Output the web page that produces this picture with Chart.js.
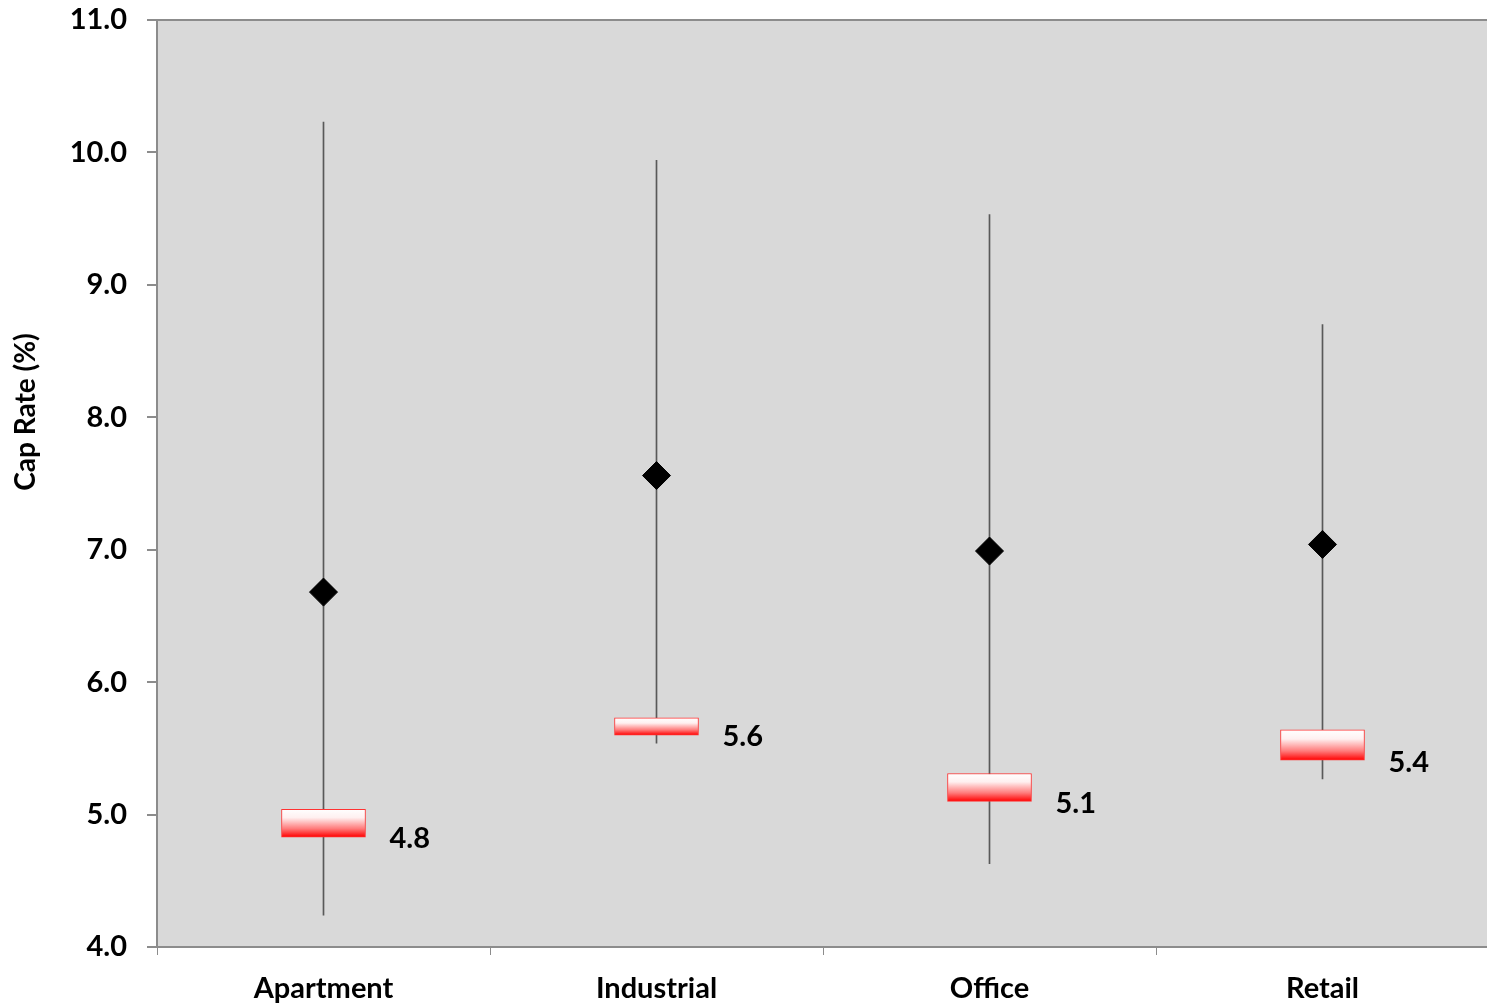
<!DOCTYPE html>
<html>
<head>
<meta charset="utf-8">
<script src="https://cdn.jsdelivr.net/npm/chart.js@4.4.1/dist/chart.umd.min.js"></script>
<style>
  html, body { margin: 0; padding: 0; background: #ffffff; overflow: hidden; }
  #chart { display: block; }
</style>
</head>
<body>
<canvas id="chart" width="1492" height="1005"></canvas>
<script>
// Cap rate ranges by property type
const categories = ['Apartment', 'Industrial', 'Office', 'Retail'];
const rangeLow   = [4.24, 5.54, 4.63, 5.27];
const rangeHigh  = [10.23, 9.94, 9.53, 8.70];
const boxLow     = [4.83, 5.60, 5.10, 5.41];
const boxHigh    = [5.04, 5.73, 5.31, 5.64];
const meanValues = [6.68, 7.56, 6.99, 7.04];
const yTicks     = [4, 5, 6, 7, 8, 9, 10, 11];
const yTitle     = 'Cap Rate (%)';

const FONT = 'Lato, "Open Sans", sans-serif';
const AXIS_GREY = '#8c8c8c';

const whiskerData = categories.map((_, i) => [rangeLow[i], rangeHigh[i]]);
const boxData = categories.map((_, i) => [boxLow[i], boxHigh[i]]);

function boxGradient(ctx) {
  const chart = ctx.chart;
  const y = chart.scales.y;
  if (!chart.chartArea || !y || ctx.dataIndex === undefined) return '#ff4040';
  const top = y.getPixelForValue(boxHigh[ctx.dataIndex]);
  const bottom = y.getPixelForValue(boxLow[ctx.dataIndex]);
  const g = chart.ctx.createLinearGradient(0, top, 0, bottom);
  g.addColorStop(0, '#ffffff');
  g.addColorStop(0.3, '#fff0f0');
  g.addColorStop(0.7, '#ff7a7a');
  g.addColorStop(1, '#ff0000');
  return g;
}

// Grey plot background, top frame line and the rotated axis title
const plotFrame = {
  id: 'plotFrame',
  beforeDraw(chart) {
    const { ctx, chartArea: a } = chart;
    ctx.save();
    ctx.fillStyle = '#d9d9d9';
    ctx.fillRect(a.left, a.top, a.right - a.left, a.bottom - a.top);
    ctx.restore();
  },
  afterDraw(chart) {
    const { ctx, chartArea: a } = chart;
    ctx.save();
    ctx.strokeStyle = AXIS_GREY;
    ctx.lineWidth = 2;
    ctx.beginPath();
    ctx.moveTo(a.left, a.top);
    ctx.lineTo(a.right, a.top);
    ctx.stroke();

    ctx.translate(26, 412);
    ctx.rotate(-Math.PI / 2);
    ctx.font = 'bold 28px ' + FONT;
    ctx.fillStyle = '#000000';
    ctx.textAlign = 'center';
    ctx.textBaseline = 'middle';
    ctx.fillText(yTitle, 0, 0);
    ctx.restore();
  }
};

// Value labels beside the lower edge of each box
const boxLabels = {
  id: 'boxLabels',
  afterDatasetsDraw(chart) {
    const meta = chart.getDatasetMeta(1);
    const y = chart.scales.y;
    const ctx = chart.ctx;
    ctx.save();
    ctx.font = 'bold 29px ' + FONT;
    ctx.fillStyle = '#000000';
    ctx.textAlign = 'left';
    ctx.textBaseline = 'middle';
    meta.data.forEach((bar, i) => {
      const right = bar.x + bar.width / 2;
      ctx.fillText(boxLow[i].toFixed(1), right + 24, y.getPixelForValue(boxLow[i]) + 2);
    });
    ctx.restore();
  }
};

new Chart(document.getElementById('chart'), {
  data: {
    labels: categories,
    datasets: [
      {
        type: 'bar',
        label: 'Range',
        data: whiskerData,
        backgroundColor: '#595959',
        barThickness: 1,
        grouped: false,
        order: 3
      },
      {
        type: 'bar',
        label: 'Current',
        data: boxData,
        backgroundColor: boxGradient,
        borderColor: '#ff3333',
        borderWidth: 1,
        borderSkipped: false,
        barThickness: 84,
        grouped: false,
        order: 2
      },
      {
        type: 'line',
        label: 'Average',
        data: meanValues,
        showLine: false,
        pointStyle: 'rectRot',
        pointRadius: 14,
        pointHoverRadius: 14,
        pointBackgroundColor: '#000000',
        pointBorderColor: '#000000',
        pointBorderWidth: 1,
        order: 1
      }
    ]
  },
  options: {
    responsive: false,
    animation: false,
    events: [],
    layout: { autoPadding: false, padding: { top: 20, right: 3, left: 0, bottom: 0 } },
    plugins: {
      legend: { display: false },
      tooltip: { enabled: false }
    },
    scales: {
      x: {
        type: 'category',
        offset: true,
        afterFit(s) {
          s.height = 58;
          s.paddingLeft = 0;
          s.paddingRight = 0;
        },
        grid: {
          offset: true,
          drawOnChartArea: false,
          drawTicks: true,
          tickLength: 8,
          color: AXIS_GREY,
          lineWidth: 1
        },
        border: { display: true, color: AXIS_GREY, width: 2 },
        ticks: {
          color: '#000000',
          padding: 16,
          font: { family: FONT, size: 29, weight: 'bold' }
        }
      },
      y: {
        type: 'linear',
        min: 4,
        max: 11,
        afterFit(s) {
          s.width = 157;
          s.paddingTop = 0;
          s.paddingBottom = 0;
        },
        afterBuildTicks(s) { s.ticks = yTicks.map(v => ({ value: v })); },
        grid: {
          drawOnChartArea: false,
          drawTicks: true,
          tickLength: 10,
          color: AXIS_GREY,
          lineWidth: 2
        },
        border: { display: true, color: AXIS_GREY, width: 2 },
        ticks: {
          color: '#000000',
          padding: 20,
          font: { family: FONT, size: 29, weight: 'bold' },
          callback: v => Number(v).toFixed(1)
        }
      }
    }
  },
  plugins: [plotFrame, boxLabels]
});
</script>
</body>
</html>
